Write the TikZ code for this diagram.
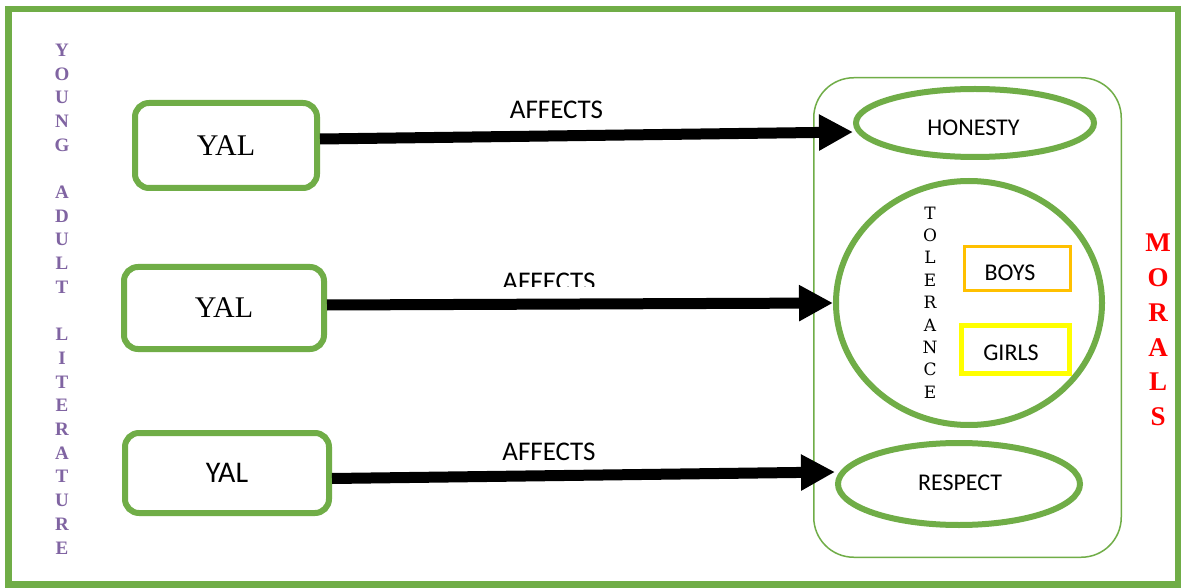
\documentclass[tikz,border=0pt]{standalone}
\usepackage{fontspec}
\setmainfont{Liberation Serif}
\newfontfamily\calfont{Carlito}
\newfontfamily\slabfont{DejaVu Serif}
\usetikzlibrary{arrows.meta,shapes.geometric}
\definecolor{grn}{RGB}{112,173,71}
\definecolor{purp}{RGB}{128,100,162}
\definecolor{orng}{RGB}{255,192,0}
\definecolor{yel}{RGB}{255,255,0}
\definecolor{mred}{RGB}{255,0,0}
\begin{document}
\begin{tikzpicture}[x=1pt,y=-1pt,
  yalbox/.style={draw=grn,line width=6pt,rounded corners=14pt,inner sep=0pt},
  oval/.style={ellipse,draw=grn,line width=6pt,inner sep=0pt},
  arr/.style={line width=11pt,-{Triangle[length=34pt,width=34pt]}},
  lbl/.style={font=\calfont\fontsize{24}{28}\selectfont,inner sep=0pt},
  aff/.style={font=\calfont\fontsize{27}{32}\selectfont,inner sep=0pt},
  stack/.style={align=center,inner sep=0pt}
]
\useasboundingbox (0,0) rectangle (1184,588);
\fill[white] (0,0) rectangle (1184,588);
\draw[grn,line width=6.5pt] (8.5,9) rectangle (1178,584.5);

% left vertical title
\node[stack,text=purp,font=\bfseries\fontsize{19}{23.7}\selectfont] (yalt) at (62,299)
  {Y\\O\\U\\N\\G\\~\\A\\D\\U\\L\\T\\~\\L\\I\\T\\E\\R\\A\\T\\U\\R\\E};

% YAL boxes
\node[yalbox,minimum width=182pt,minimum height=85pt,font=\fontsize{30}{34}\selectfont] (y1) at (226,145.5) {YAL};
\node[yalbox,minimum width=200pt,minimum height=82pt,font=\fontsize{30}{34}\selectfont] (y2) at (224,308) {YAL};
\node[yalbox,minimum width=204pt,minimum height=80pt,font=\calfont\fontsize{30}{34}\selectfont] (y3) at (227,473) {YAL};

% container
\node[draw=grn,line width=1.5pt,rounded corners=40pt,minimum width=307.5pt,minimum height=479.5pt,inner sep=0pt] (cont) at (967.5,317.5) {};

% ellipses
\node[oval,minimum width=238pt,minimum height=68pt] (hon) at (975,123) {};
\node[lbl] (hont) at (973.5,128) {HONESTY};
\node[oval,minimum width=266pt,minimum height=244pt] (tole) at (969,303) {};
\node[oval,minimum width=242pt,minimum height=82pt] (res) at (959,484) {};
\node[lbl] (rest) at (960,483) {RESPECT};

% tolerance contents
\node[stack,font=\slabfont\fontsize{17}{22.4}\selectfont] (tol) at (930,302.5) {T\\O\\L\\E\\R\\A\\N\\C\\E};
\node[draw=orng,line width=3.5pt,minimum width=106pt,minimum height=44pt,inner sep=0pt] (boy) at (1017.5,268.5) {};
\node[lbl] (boyt) at (1010,273) {BOYS};
\node[draw=yel,line width=5pt,minimum width=108pt,minimum height=48pt,inner sep=0pt] (girl) at (1015.5,349.5) {};
\node[lbl] (girlt) at (1011,353) {GIRLS};

% morals
\node[stack,text=mred,font=\bfseries\fontsize{27}{34.8}\selectfont] (mor) at (1158,330) {M\\O\\R\\A\\L\\S};

% arrows
\draw[arr] ([yshift=6.5pt]y1.east) -- ([yshift=-9pt]hon.west);
\draw[arr] ([yshift=3pt]y2.east) -- (tole.west);
\draw[arr] ([yshift=-5.5pt]y3.east) -- ([yshift=12pt]res.west);

% labels
\node[aff] (a1) at (556.5,110) {AFFECTS};
\begin{scope}
  \clip (400,250) rectangle (700,287);
  \node[aff] (a2) at (549,281.5) {AFFECTS};
\end{scope}
\node[aff] (a3) at (549,451.5) {AFFECTS};
\end{tikzpicture}
\end{document}
